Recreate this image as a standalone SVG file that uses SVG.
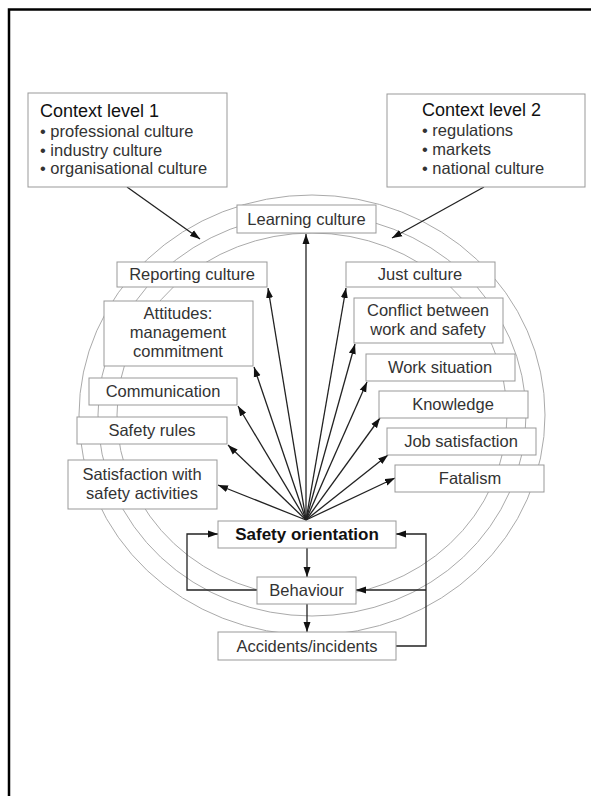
<svg xmlns="http://www.w3.org/2000/svg" width="591" height="796" viewBox="0 0 591 796">
<defs>
<style>
.frame{fill:none;stroke:#000;stroke-width:2.5}
.ring{fill:none;stroke:#aaa;stroke-width:1}
.box{fill:#fff;stroke:#999;stroke-width:1}
.t{font-family:"Liberation Sans",Arial,sans-serif;font-size:16.5px;fill:#333;text-anchor:middle}
.ctx{font-family:"Liberation Sans",Arial,sans-serif;font-size:16.5px;fill:#333}
.ctxh{font-size:18px;fill:#111}
.b{font-weight:bold;font-size:17px;fill:#111}
.arr{fill:none;stroke:#222;stroke-width:1.3;marker-end:url(#ah)}
</style>
<marker id="ah" markerUnits="userSpaceOnUse" markerWidth="10" markerHeight="8" refX="10" refY="4" orient="auto">
<path d="M0,0.5 L10,4 L0,7.5 z" fill="#111"/>
</marker>
</defs>
<rect width="591" height="796" fill="#fff"/>
<path class="frame" d="M9,796 L9,9.5 L591,9.5"/>
<g id="rings">
<ellipse class="ring" cx="312" cy="415" rx="233" ry="220"/>
<ellipse class="ring" cx="312" cy="415" rx="214" ry="201"/>
<ellipse class="ring" cx="312" cy="415" rx="195" ry="182"/>
</g>
<g id="connectors">
<line class="arr" x1="127" y1="187" x2="200" y2="239"/>
<line class="arr" x1="484" y1="187" x2="392" y2="238"/>
<line class="arr" x1="306" y1="520" x2="306" y2="234"/>
<line class="arr" x1="306" y1="520" x2="268" y2="288"/>
<line class="arr" x1="306" y1="520" x2="254" y2="367"/>
<line class="arr" x1="306" y1="520" x2="238" y2="406"/>
<line class="arr" x1="306" y1="520" x2="228" y2="445"/>
<line class="arr" x1="306" y1="520" x2="218" y2="485"/>
<line class="arr" x1="306" y1="520" x2="346" y2="288"/>
<line class="arr" x1="306" y1="520" x2="355" y2="344"/>
<line class="arr" x1="306" y1="520" x2="367" y2="382"/>
<line class="arr" x1="306" y1="520" x2="380" y2="418"/>
<line class="arr" x1="306" y1="520" x2="388" y2="455"/>
<line class="arr" x1="306" y1="520" x2="395" y2="478"/>
<line class="arr" x1="307" y1="548" x2="307" y2="577"/>
<line class="arr" x1="307" y1="604" x2="307" y2="632"/>
<path class="arr" d="M257,590 L187,590 L187,534 L218,534"/>
<path class="arr" d="M396,646 L426,646 L426,534 L396,534"/>
<path class="arr" d="M426,590 L356,590"/>
</g>
<g id="ctx1">
<rect class="box" x="28" y="93" width="199" height="94"/>
<text class="ctx ctxh" x="40" y="117">Context level 1</text>
<text class="ctx" x="40" y="137">• professional culture</text>
<text class="ctx" x="40" y="156">• industry culture</text>
<text class="ctx" x="40" y="174">• organisational culture</text>
</g>
<g id="ctx2">
<rect class="box" x="387" y="94" width="198" height="93"/>
<text class="ctx ctxh" x="422" y="116">Context level 2</text>
<text class="ctx" x="422" y="136">• regulations</text>
<text class="ctx" x="422" y="155">• markets</text>
<text class="ctx" x="422" y="174">• national culture</text>
</g>
<g id="learning"><rect class="box" x="237" y="205" width="139" height="28"/><text class="t" x="306.5" y="225">Learning culture</text></g>
<g id="reporting"><rect class="box" x="117" y="262" width="150" height="25"/><text class="t" x="192" y="280">Reporting culture</text></g>
<g id="attitudes"><rect class="box" x="104" y="301" width="149" height="65"/><text class="t" x="178" y="319">Attitudes:</text><text class="t" x="178" y="338">management</text><text class="t" x="178" y="357">commitment</text></g>
<g id="communication"><rect class="box" x="89" y="378" width="148" height="27"/><text class="t" x="163" y="397">Communication</text></g>
<g id="safetyrules"><rect class="box" x="77" y="417" width="150" height="27"/><text class="t" x="152" y="436">Safety rules</text></g>
<g id="satisfaction"><rect class="box" x="68" y="460" width="149" height="49"/><text class="t" x="142" y="480">Satisfaction with</text><text class="t" x="142" y="499">safety activities</text></g>
<g id="just"><rect class="box" x="346" y="262" width="149" height="25"/><text class="t" x="420" y="280">Just culture</text></g>
<g id="conflict"><rect class="box" x="354" y="298" width="149" height="45"/><text class="t" x="428" y="316">Conflict between</text><text class="t" x="428" y="335">work and safety</text></g>
<g id="worksituation"><rect class="box" x="366" y="354" width="149" height="27"/><text class="t" x="440" y="373">Work situation</text></g>
<g id="knowledge"><rect class="box" x="379" y="391" width="149" height="27"/><text class="t" x="453" y="410">Knowledge</text></g>
<g id="jobsat"><rect class="box" x="387" y="428" width="149" height="27"/><text class="t" x="461" y="447">Job satisfaction</text></g>
<g id="fatalism"><rect class="box" x="395" y="465" width="149" height="27"/><text class="t" x="470" y="484">Fatalism</text></g>
<g id="safetyorientation"><rect class="box" x="218" y="521" width="178" height="27"/><text class="t b" x="307" y="540">Safety orientation</text></g>
<g id="behaviour"><rect class="box" x="257" y="577" width="99" height="27"/><text class="t" x="306.5" y="596">Behaviour</text></g>
<g id="accidents"><rect class="box" x="218" y="632" width="178" height="28"/><text class="t" x="307" y="652">Accidents/incidents</text></g>
</svg>
